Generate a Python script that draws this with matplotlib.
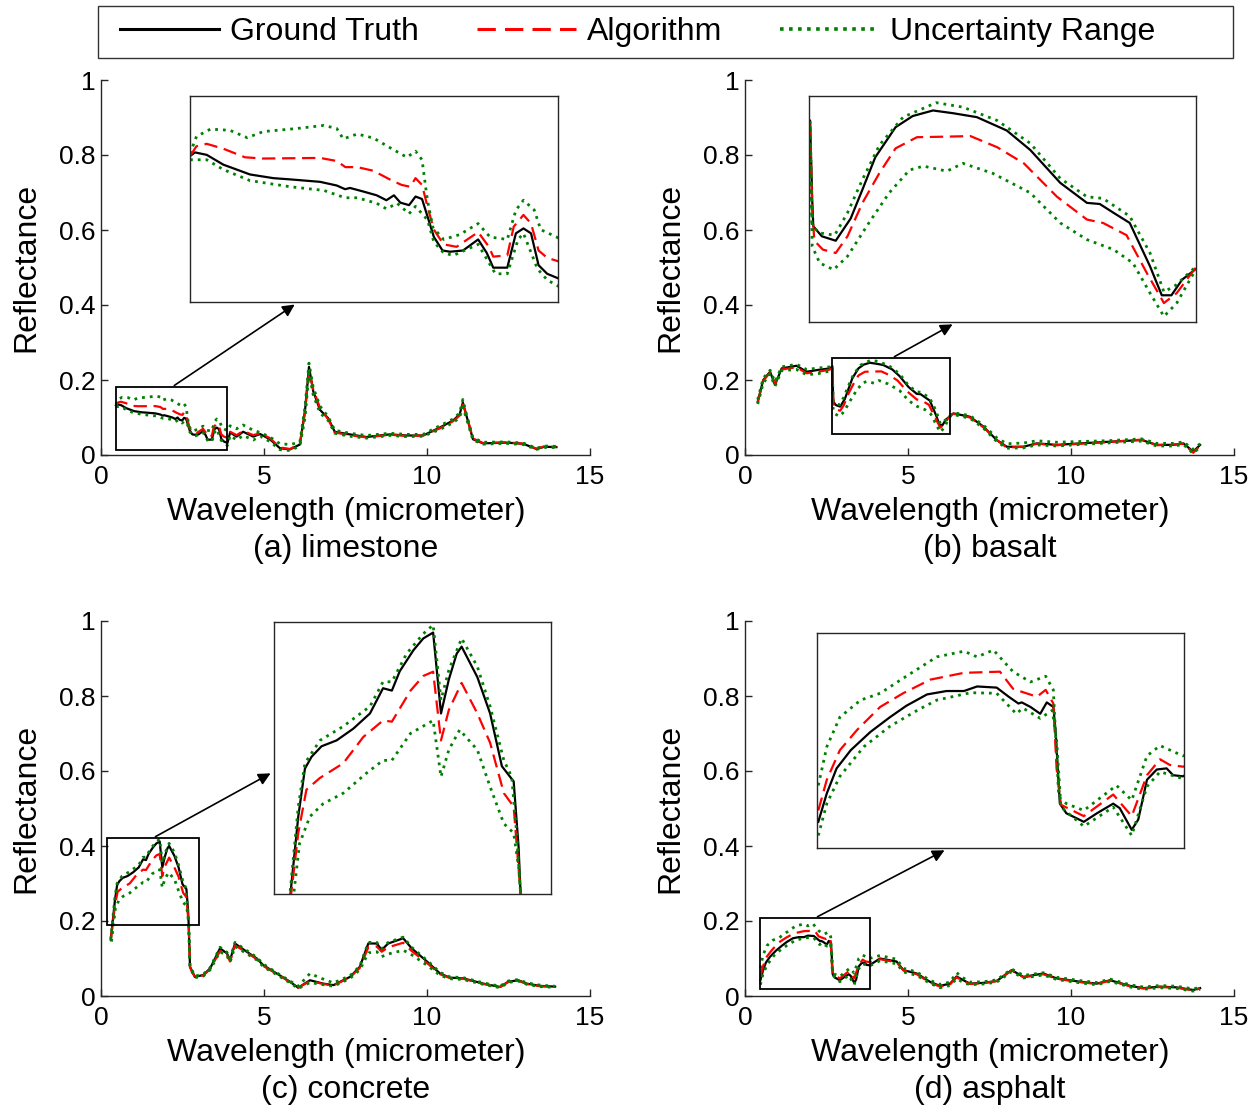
import matplotlib
matplotlib.use("Agg")
import matplotlib.pyplot as plt
from matplotlib.lines import Line2D
from matplotlib.patches import Rectangle, FancyArrowPatch

plt.rcParams['font.family'] = ['Liberation Sans', 'DejaVu Sans']

W, H = 1260, 1109

# ---------------- limestone ----------------
lime_truth_x = [0.46, 0.506, 0.615, 0.769, 0.893, 1.016, 1.233, 1.387, 1.665, 1.82, 1.897, 1.943, 2.07, 2.19, 2.28, 2.35,
                2.41, 2.49, 2.55, 2.61, 2.66, 2.72, 2.80, 2.87, 2.99, 3.13, 3.21, 3.27, 3.40, 3.48, 3.55, 3.62, 3.69, 3.77, 3.88]
lime_truth_y = [0.132, 0.135, 0.133, 0.125, 0.121, 0.117, 0.114, 0.113, 0.111, 0.108, 0.105, 0.106, 0.103, 0.100, 0.096, 0.100,
                0.094, 0.092, 0.099, 0.097, 0.083, 0.066, 0.055, 0.054, 0.055, 0.064, 0.053, 0.041, 0.041, 0.069, 0.073, 0.069, 0.043, 0.036, 0.032]
lime_algo_x = [0.46, 0.52, 0.615, 0.769, 0.97, 1.14, 1.665, 1.82, 1.90, 2.01, 2.16, 2.31, 2.42, 2.50, 2.55, 2.61, 2.66, 2.72,
               2.81, 2.93, 3.13, 3.23, 3.27, 3.40, 3.46, 3.55, 3.62, 3.69, 3.77, 3.88]
lime_algo_y = [0.132, 0.140, 0.142, 0.138, 0.131, 0.130, 0.1305, 0.128, 0.123, 0.123, 0.120, 0.113, 0.1085, 0.107, 0.114, 0.1085, 0.091, 0.072,
               0.060, 0.058, 0.070, 0.058, 0.050, 0.051, 0.0745, 0.084, 0.077, 0.055, 0.049, 0.046]
lime_upper_x = [0.46, 0.52, 0.65, 0.83, 0.99, 1.14, 1.45, 1.70, 1.82, 1.88, 2.01, 2.16, 2.31, 2.47, 2.55, 2.61, 2.66, 2.71,
                2.81, 2.96, 3.13, 3.24, 3.40, 3.48, 3.55, 3.65, 3.71, 3.88]
lime_upper_y = [0.134, 0.148, 0.154, 0.153, 0.147, 0.152, 0.1545, 0.157, 0.1545, 0.146, 0.150, 0.1467, 0.139, 0.131, 0.136, 0.129, 0.096, 0.074,
                0.064, 0.068, 0.077, 0.066, 0.064, 0.088, 0.096, 0.088, 0.072, 0.065]
lime_lower_x = [0.46, 0.615, 0.769, 1.016, 1.387, 1.70, 1.897, 2.01, 2.19, 2.28, 2.38, 2.49, 2.55, 2.66, 2.72, 2.81, 2.90,
                3.13, 3.29, 3.40, 3.50, 3.55, 3.68, 3.77, 3.88]
lime_lower_y = [0.129, 0.129, 0.121, 0.112, 0.107, 0.104, 0.098, 0.098, 0.0935, 0.089, 0.0935, 0.085, 0.091, 0.080, 0.062, 0.053, 0.051,
                0.060, 0.036, 0.036, 0.064, 0.069, 0.040, 0.031, 0.0255]
lime_tail_x = [3.96, 4.16, 4.36, 4.67, 4.88, 5.18, 5.49, 5.80, 6.10, 6.26, 6.38, 6.51, 6.72, 6.97, 7.17, 7.63, 8.14, 8.86, 9.37,
               9.88, 10.39, 10.80, 11.0, 11.1, 11.2, 11.41, 11.72, 12.43, 12.95, 13.36, 13.6, 13.97]
lime_tail_truth = [0.060, 0.049, 0.062, 0.049, 0.056, 0.042, 0.018, 0.015, 0.028, 0.12, 0.235, 0.17, 0.12, 0.098, 0.062, 0.055, 0.048, 0.055, 0.052,
                   0.052, 0.073, 0.092, 0.108, 0.14, 0.108, 0.042, 0.031, 0.033, 0.030, 0.016, 0.022, 0.021]
lime_tail_algo = [0.062, 0.053, 0.064, 0.053, 0.058, 0.045, 0.020, 0.016, 0.030, 0.115, 0.225, 0.175, 0.125, 0.095, 0.060, 0.053, 0.047, 0.054, 0.051,
                  0.052, 0.071, 0.090, 0.105, 0.135, 0.110, 0.044, 0.032, 0.034, 0.030, 0.017, 0.023, 0.022]
lime_tail_upper = [0.078, 0.070, 0.080, 0.066, 0.060, 0.048, 0.030, 0.028, 0.034, 0.13, 0.245, 0.18, 0.13, 0.102, 0.066, 0.058, 0.052, 0.058, 0.055,
                   0.055, 0.078, 0.096, 0.112, 0.148, 0.112, 0.046, 0.034, 0.035, 0.032, 0.018, 0.024, 0.023]
lime_tail_lower = [0.052, 0.040, 0.052, 0.040, 0.050, 0.036, 0.014, 0.012, 0.024, 0.10, 0.22, 0.16, 0.112, 0.092, 0.058, 0.050, 0.045, 0.052, 0.049,
                   0.050, 0.068, 0.086, 0.100, 0.128, 0.100, 0.040, 0.029, 0.031, 0.028, 0.015, 0.020, 0.020]

# ---------------- basalt ----------------
bas_truth_x = [0.39, 0.56, 0.77, 0.92, 1.125, 1.58, 1.89, 2.25, 2.61,
               2.68, 2.70, 2.71, 2.79, 2.92, 3.06, 3.17, 3.29, 3.48, 3.64, 3.83, 4.02, 4.24, 4.52, 4.74, 5.02, 5.27, 5.39,
               5.52, 5.67, 5.86, 5.97, 6.06, 6.16, 6.28]
bas_truth_y = [0.142, 0.200, 0.222, 0.187, 0.231, 0.238, 0.222, 0.227, 0.231,
               0.237, 0.166, 0.142, 0.133, 0.129, 0.149, 0.175, 0.204, 0.231, 0.241, 0.246, 0.2435, 0.240, 0.228, 0.2105, 0.181, 0.163, 0.162,
               0.154, 0.145, 0.106, 0.080, 0.080, 0.094, 0.103]
bas_algo_x = [0.39, 0.56, 0.77, 0.92, 1.125, 1.58, 1.89, 2.25, 2.61,
              2.68, 2.70, 2.72, 2.80, 2.92, 3.03, 3.17, 3.33, 3.48, 3.68, 3.96, 4.18, 4.43, 4.68, 4.99, 5.27, 5.42, 5.64,
              5.83, 5.99, 6.11, 6.28]
bas_algo_y = [0.140, 0.198, 0.220, 0.190, 0.228, 0.234, 0.218, 0.222, 0.228,
              0.234, 0.157, 0.129, 0.121, 0.118, 0.133, 0.163, 0.190, 0.212, 0.222, 0.2225, 0.223, 0.213, 0.1985, 0.1685, 0.148, 0.145, 0.134,
              0.100, 0.073, 0.082, 0.104]
bas_upper_x = [0.39, 0.56, 0.77, 0.92, 1.125, 1.58, 1.89, 2.25, 2.61,
               2.68, 2.70, 2.77, 2.91, 3.03, 3.17, 3.33, 3.55, 3.86, 4.11, 4.43, 4.74, 5.02, 5.27, 5.42, 5.67, 5.86, 5.99, 6.10, 6.28]
bas_upper_y = [0.148, 0.205, 0.226, 0.195, 0.235, 0.242, 0.228, 0.232, 0.235,
               0.237, 0.142, 0.136, 0.134, 0.154, 0.184, 0.215, 0.240, 0.253, 0.249, 0.237, 0.2165, 0.185, 0.1685, 0.167, 0.151, 0.118, 0.083, 0.089, 0.105]
bas_lower_x = [0.39, 0.56, 0.77, 0.92, 1.125, 1.58, 1.89, 2.25, 2.61,
               2.68, 2.70, 2.77, 2.90, 3.03, 3.23, 3.42, 3.61, 3.74, 3.96, 4.11, 4.39, 4.74, 5.02, 5.27, 5.52, 5.70, 5.86, 5.99, 6.11, 6.28]
bas_lower_y = [0.136, 0.192, 0.216, 0.183, 0.225, 0.228, 0.214, 0.217, 0.224,
               0.231, 0.124, 0.109, 0.103, 0.115, 0.145, 0.172, 0.1925, 0.196, 0.1915, 0.1985, 0.1895, 0.172, 0.145, 0.130, 0.121, 0.109, 0.082, 0.061, 0.073, 0.102]
bas_tail_x = [6.39, 6.90, 7.31, 7.72, 8.03, 8.54, 8.95, 9.56, 10.28, 11.10, 12.17, 12.63, 13.14, 13.45, 13.75, 13.96]
bas_tail_truth = [0.111, 0.102, 0.076, 0.040, 0.022, 0.022, 0.031, 0.027, 0.031, 0.035, 0.040, 0.027, 0.027, 0.031, 0.009, 0.027]
bas_tail_algo = [0.110, 0.100, 0.074, 0.040, 0.020, 0.022, 0.030, 0.026, 0.030, 0.034, 0.041, 0.026, 0.028, 0.030, 0.006, 0.025]
bas_tail_upper = [0.113, 0.105, 0.080, 0.046, 0.030, 0.032, 0.038, 0.034, 0.036, 0.038, 0.043, 0.031, 0.031, 0.035, 0.015, 0.030]
bas_tail_lower = [0.108, 0.098, 0.072, 0.036, 0.018, 0.019, 0.027, 0.024, 0.028, 0.032, 0.037, 0.024, 0.024, 0.028, 0.004, 0.022]

# ---------------- concrete ----------------
con_truth_x = [0.30, 0.427, 0.495, 0.562, 0.664, 0.817, 0.987, 1.157, 1.29, 1.38, 1.46, 1.60, 1.70, 1.80, 1.88, 1.96, 2.04,
               2.09, 2.25, 2.38, 2.50, 2.62, 2.67, 2.69]
con_truth_y = [0.150, 0.255, 0.296, 0.306, 0.315, 0.320, 0.330, 0.343, 0.3645, 0.3625, 0.379, 0.397, 0.407, 0.412, 0.343, 0.372, 0.394,
               0.400, 0.374, 0.343, 0.298, 0.285, 0.229, 0.190]
con_algo_x = [0.30, 0.427, 0.51, 0.648, 0.885, 1.09, 1.29, 1.38, 1.57, 1.70, 1.80, 1.88, 1.96, 2.09, 2.25, 2.38, 2.52, 2.62, 2.69]
con_algo_y = [0.150, 0.241, 0.278, 0.288, 0.3005, 0.323, 0.337, 0.336, 0.3625, 0.375, 0.3786, 0.320, 0.346, 0.369, 0.343, 0.318, 0.275, 0.2635, 0.190]
con_upper_x = [0.30, 0.427, 0.495, 0.648, 0.885, 1.157, 1.29, 1.38, 1.53, 1.70, 1.80, 1.88, 1.96, 2.09, 2.25, 2.38, 2.52, 2.60, 2.65, 2.69]
con_upper_y = [0.152, 0.2635, 0.3005, 0.320, 0.332, 0.349, 0.370, 0.370, 0.394, 0.411, 0.4185, 0.3545, 0.380, 0.407, 0.383, 0.349, 0.303, 0.289, 0.241, 0.190]
con_lower_x = [0.32, 0.44, 0.545, 0.68, 0.885, 1.12, 1.29, 1.38, 1.57, 1.80, 1.88, 1.96, 2.07, 2.25, 2.38, 2.52, 2.62, 2.67, 2.69]
con_lower_y = [0.145, 0.232, 0.255, 0.266, 0.275, 0.292, 0.303, 0.303, 0.326, 0.337, 0.289, 0.312, 0.329, 0.312, 0.2805, 0.249, 0.241, 0.212, 0.190]
con_tail_x = [2.73, 2.88, 3.14, 3.35, 3.65, 3.86, 3.96, 4.11, 4.47, 4.78, 4.98, 5.39, 5.80, 6.05, 6.41, 6.82, 7.13, 7.64, 7.94, 8.20,
              8.46, 8.61, 8.81, 9.27, 9.53, 10.0, 10.4, 10.7, 11.11, 11.73, 12.24, 12.49, 12.8, 13.06, 13.47, 13.93]
con_tail_truth = [0.078, 0.051, 0.056, 0.074, 0.127, 0.114, 0.096, 0.140, 0.118, 0.100, 0.082, 0.060, 0.038, 0.022, 0.042, 0.033, 0.029, 0.051, 0.078, 0.140,
                  0.140, 0.123, 0.140, 0.154, 0.127, 0.092, 0.060, 0.049, 0.047, 0.033, 0.024, 0.038, 0.042, 0.033, 0.027, 0.025]
con_tail_algo = [0.076, 0.050, 0.055, 0.072, 0.120, 0.110, 0.092, 0.135, 0.116, 0.098, 0.080, 0.059, 0.037, 0.022, 0.040, 0.032, 0.028, 0.050, 0.075, 0.130,
                 0.132, 0.118, 0.130, 0.142, 0.120, 0.088, 0.058, 0.048, 0.046, 0.032, 0.024, 0.037, 0.041, 0.032, 0.026, 0.024]
con_tail_upper = [0.080, 0.053, 0.058, 0.076, 0.130, 0.117, 0.100, 0.143, 0.121, 0.103, 0.085, 0.062, 0.040, 0.026, 0.060, 0.045, 0.035, 0.054, 0.080, 0.143,
                  0.143, 0.126, 0.143, 0.157, 0.130, 0.095, 0.063, 0.051, 0.049, 0.035, 0.026, 0.040, 0.044, 0.035, 0.029, 0.026]
con_tail_lower = [0.075, 0.049, 0.053, 0.070, 0.118, 0.108, 0.090, 0.132, 0.113, 0.096, 0.078, 0.057, 0.035, 0.020, 0.036, 0.030, 0.026, 0.047, 0.070, 0.115,
                  0.118, 0.105, 0.112, 0.122, 0.110, 0.082, 0.055, 0.046, 0.044, 0.031, 0.022, 0.036, 0.040, 0.031, 0.025, 0.023]

# ---------------- asphalt ----------------
asp_truth_x = [0.472, 0.55, 0.64, 0.77, 0.95, 1.13, 1.28, 1.47, 1.65, 1.81, 1.93, 2.11, 2.22, 2.31, 2.34, 2.42, 2.51, 2.57, 2.63,
               2.65, 2.69, 2.75, 2.91, 3.03, 3.18, 3.24, 3.35, 3.41, 3.49, 3.58, 3.67, 3.73, 3.82]
asp_truth_y = [0.042, 0.067, 0.089, 0.105, 0.121, 0.134, 0.144, 0.154, 0.157, 0.157, 0.161, 0.160, 0.152, 0.146, 0.147, 0.143, 0.137, 0.147, 0.143,
               0.123, 0.058, 0.0495, 0.042, 0.0495, 0.058, 0.054, 0.035, 0.044, 0.079, 0.088, 0.089, 0.083, 0.082]
asp_algo_x = [0.472, 0.55, 0.67, 0.83, 1.04, 1.25, 1.50, 1.81, 2.14, 2.26, 2.35, 2.48, 2.56, 2.63, 2.66, 2.70, 2.91, 3.18, 3.35,
              3.49, 3.61, 3.70, 3.82]
asp_algo_y = [0.052, 0.079, 0.105, 0.123, 0.143, 0.155, 0.167, 0.173, 0.174, 0.159, 0.156, 0.152, 0.158, 0.146, 0.089, 0.057, 0.047, 0.066, 0.047,
              0.083, 0.097, 0.092, 0.0905]
asp_upper_x = [0.472, 0.55, 0.67, 0.86, 1.04, 1.28, 1.56, 1.81, 1.93, 2.08, 2.26, 2.42, 2.56, 2.63, 2.68, 2.75, 2.91, 3.21, 3.35,
               3.49, 3.61, 3.82]
asp_upper_y = [0.074, 0.108, 0.134, 0.149, 0.155, 0.170, 0.187, 0.192, 0.187, 0.193, 0.174, 0.165, 0.170, 0.158, 0.064, 0.058, 0.052, 0.074, 0.061,
               0.100, 0.109, 0.100]
asp_lower_x = [0.472, 0.55, 0.67, 0.89, 1.13, 1.38, 1.56, 1.87, 2.11, 2.29, 2.35, 2.51, 2.62, 2.66, 2.70, 2.91, 3.18, 3.35, 3.49, 3.61, 3.82]
asp_lower_y = [0.030, 0.058, 0.082, 0.108, 0.126, 0.140, 0.149, 0.1555, 0.155, 0.137, 0.142, 0.133, 0.140, 0.114, 0.055, 0.038, 0.055, 0.030,
               0.073, 0.086, 0.080]
asp_tail_x = [4.14, 4.65, 4.86, 5.27, 5.67, 5.98, 6.29, 6.49, 6.70, 6.90, 7.31, 7.72, 8.18, 8.54, 9.15, 9.56, 10.28, 10.79, 11.20,
              11.81, 12.22, 12.73, 13.24, 13.75, 13.96]
asp_tail_truth = [0.100, 0.092, 0.069, 0.060, 0.038, 0.027, 0.033, 0.052, 0.042, 0.033, 0.035, 0.040, 0.069, 0.051, 0.060, 0.047, 0.038, 0.033, 0.042,
                  0.027, 0.021, 0.025, 0.023, 0.016, 0.021]
asp_tail_algo = [0.098, 0.090, 0.068, 0.058, 0.036, 0.025, 0.031, 0.050, 0.040, 0.032, 0.034, 0.040, 0.068, 0.050, 0.058, 0.046, 0.037, 0.032, 0.041,
                 0.026, 0.020, 0.024, 0.022, 0.015, 0.020]
asp_tail_upper = [0.108, 0.098, 0.074, 0.064, 0.042, 0.031, 0.037, 0.062, 0.048, 0.037, 0.038, 0.043, 0.072, 0.055, 0.062, 0.050, 0.041, 0.036, 0.045,
                  0.030, 0.024, 0.028, 0.026, 0.019, 0.023]
asp_tail_lower = [0.094, 0.086, 0.064, 0.055, 0.034, 0.022, 0.028, 0.046, 0.036, 0.030, 0.032, 0.037, 0.065, 0.048, 0.056, 0.044, 0.035, 0.030, 0.039,
                  0.024, 0.018, 0.022, 0.020, 0.013, 0.018]

titles = ['(a) limestone', '(b) basalt', '(c) concrete', '(d) asphalt']
legend_labels = ['Ground Truth', 'Algorithm', 'Uncertainty Range']

# zoom window of each panel (data units)
zoom_x = [(0.46, 3.87), (2.67, 6.29), (0.18, 3.0), (0.46, 3.83)]
zoom_y = [(0.013, 0.181), (0.056, 0.259), (0.189, 0.421), (0.019, 0.208)]

GREEN = '#008000'
RED = '#ff0000'
SPINE = '#262626'


def pos(l, t, r, b):
    return [l / W, 1 - b / H, (r - l) / W, (b - t) / H]


def fpt(x, y):
    return (x / W, 1 - y / H)


def curves(ax, tx, ty, ax_, ay, ux, uy, lx, ly, tail, tt, ta, tu, tl, lw=1.6):
    ax.plot(tx + tail, ty + tt, color='black', lw=lw)
    ax.plot(ax_ + tail, ay + ta, color=RED, lw=lw, dashes=(6, 3))
    ax.plot(ux + tail, uy + tu, color=GREEN, lw=lw + 0.4, dashes=(1, 1.8))
    ax.plot(lx + tail, ly + tl, color=GREEN, lw=lw + 0.4, dashes=(1, 1.8))


fig = plt.figure(figsize=(W / 100, H / 100), dpi=100)

panels = [
    (lime_truth_x, lime_truth_y, lime_algo_x, lime_algo_y, lime_upper_x, lime_upper_y, lime_lower_x, lime_lower_y,
     lime_tail_x, lime_tail_truth, lime_tail_algo, lime_tail_upper, lime_tail_lower),
    (bas_truth_x, bas_truth_y, bas_algo_x, bas_algo_y, bas_upper_x, bas_upper_y, bas_lower_x, bas_lower_y,
     bas_tail_x, bas_tail_truth, bas_tail_algo, bas_tail_upper, bas_tail_lower),
    (con_truth_x, con_truth_y, con_algo_x, con_algo_y, con_upper_x, con_upper_y, con_lower_x, con_lower_y,
     con_tail_x, con_tail_truth, con_tail_algo, con_tail_upper, con_tail_lower),
    (asp_truth_x, asp_truth_y, asp_algo_x, asp_algo_y, asp_upper_x, asp_upper_y, asp_lower_x, asp_lower_y,
     asp_tail_x, asp_tail_truth, asp_tail_algo, asp_tail_upper, asp_tail_lower),
]

main_boxes = [(101, 80, 590, 455), (745, 80, 1234, 455), (101, 621, 590, 996), (745, 621, 1234, 996)]
inset_boxes = [(190, 96, 558, 302), (809, 96, 1196, 322), (274, 622, 551, 894), (817, 633, 1184, 848)]
arrows = [((172, 387), (297, 303)), ((892, 358), (955, 323)), ((153, 838), (273, 772)), ((815, 918), (947, 849))]

for i, data in enumerate(panels):
    l, t, r, b = main_boxes[i]
    ax = fig.add_axes(pos(l, t, r, b))
    curves(ax, *data)
    ax.set_xlim(0, 15)
    ax.set_ylim(0, 1)
    ax.set_xticks([0, 5, 10, 15])
    ax.set_yticks([0, 0.2, 0.4, 0.6, 0.8, 1])
    ax.set_yticklabels(['0', '0.2', '0.4', '0.6', '0.8', '1'])
    for s in ['top', 'right']:
        ax.spines[s].set_visible(False)
    for s in ['left', 'bottom']:
        ax.spines[s].set_color(SPINE)
        ax.spines[s].set_linewidth(1.0)
    ax.tick_params(direction='in', length=5, width=1, colors=SPINE, labelcolor='black', labelsize=19)
    ax.tick_params(axis='x', pad=7)
    ax.tick_params(axis='y', pad=4)

    # zoom rectangle on main axes
    x0, x1 = zoom_x[i]
    y0, y1 = zoom_y[i]
    ax.add_patch(Rectangle((x0, y0), x1 - x0, y1 - y0, fill=False, edgecolor='black', lw=1.3, zorder=5))

    # inset
    il, it, ir, ib = inset_boxes[i]
    ins = fig.add_axes(pos(il, it, ir, ib))
    curves(ins, *data)
    ins.set_xlim(x0, x1)
    ins.set_ylim(y0, y1)
    ins.set_xticks([])
    ins.set_yticks([])
    for s in ins.spines.values():
        s.set_color(SPINE)
        s.set_linewidth(1.0)

    (sx, sy), (ex, ey) = arrows[i]
    fig.patches.append(FancyArrowPatch(
        fpt(sx, sy), fpt(ex, ey), transform=fig.transFigure, arrowstyle='-|>',
        mutation_scale=18, color='black', lw=1.2))

    cx = (l + r) / 2
    fig.text(*fpt(cx + 1, b + 57), 'Wavelength (micrometer)', ha='center', va='center', fontsize=23)
    fig.text(*fpt(cx, b + 94), titles[i], ha='center', va='center', fontsize=23)
    fig.text(*fpt(l - 75, (t + b) / 2), 'Reflectance', ha='center', va='center', rotation=90, fontsize=23)

# legend: frame drawn separately so its width matches the figure
fig.patches.append(Rectangle(fpt(98, 58), 1135 / W, 52 / H, transform=fig.transFigure,
                             fill=False, edgecolor='#333333', lw=1.0))
handles = [Line2D([], [], color='black', lw=2.2),
           Line2D([], [], color=RED, lw=2.2, dashes=(6, 3)),
           Line2D([], [], color=GREEN, lw=2.6, dashes=(1, 1.5))]
fig.legend(handles, legend_labels, loc='center left', ncol=3,
           bbox_to_anchor=fpt(120, 32), borderaxespad=0, borderpad=0,
           frameon=False, fontsize=23, handlelength=3.1, handletextpad=0.35,
           columnspacing=1.8)

fig.savefig('out.png', dpi=100)
